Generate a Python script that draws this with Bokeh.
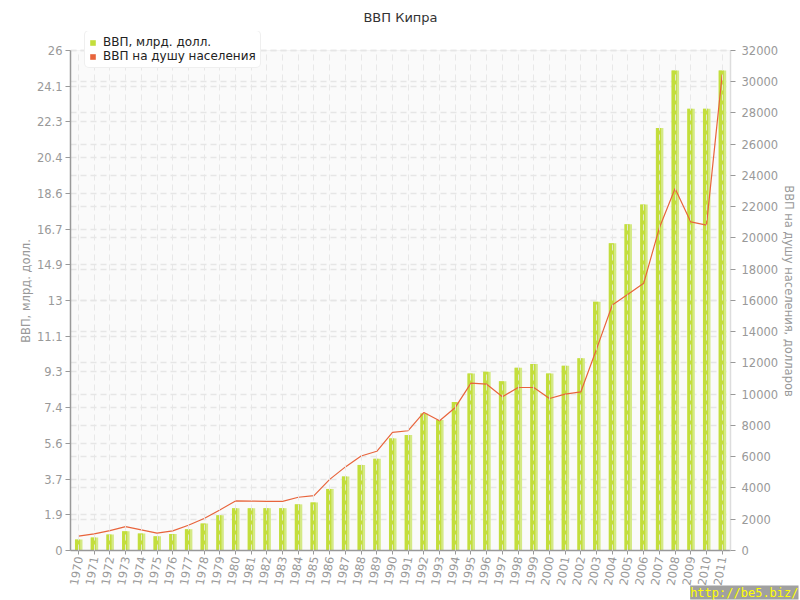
from bokeh.plotting import figure
from bokeh.models import (Range1d, LinearAxis, FixedTicker, Grid, Legend, LegendItem,
                          CustomJSTickFormatter, ColumnDataSource, BoxAnnotation, Title, Axis)
from bokeh.transform import dodge
from bokeh.embed import file_html
from bokeh.resources import INLINE
import math

years = list(range(1970, 2012))
year_labels = [str(y) for y in years]
gdp_bn = [0.57, 0.67, 0.83, 1.0, 0.88, 0.74, 0.86, 1.1, 1.4, 1.83,
          2.2, 2.2, 2.2, 2.2, 2.4, 2.5, 3.2, 3.85, 4.45, 4.77,
          5.83, 6.0, 7.12, 6.78, 7.72, 9.2, 9.3, 8.8, 9.5, 9.7,
          9.2, 9.6, 10.0, 12.94, 15.98, 16.97, 17.99, 21.97, 24.96, 22.97,
          22.97, 24.96]
gdp_per_capita = [915, 1064, 1277, 1533, 1320, 1107, 1256, 1618, 2044, 2597,
                  3172, 3165, 3150, 3140, 3406, 3513, 4550, 5350, 6050, 6350,
                  7556, 7665, 8835, 8303, 9155, 10710, 10645, 9836, 10432, 10432,
                  9730, 10006, 10155, 12900, 15712, 16400, 17100, 20650, 23170, 21030,
                  20820, 30450]
left_max = 26
right_max = 32000
left_ticks = [left_max * i / 14 for i in range(15)]
left_labels = ["0", "1.9", "3.7", "5.6", "7.4", "9.3", "11.1", "13", "14.9",
               "16.7", "18.6", "20.4", "22.3", "24.1", "26"]
right_ticks = list(range(0, right_max + 1, 2000))

FONT = "DejaVu Sans"
GRAY = "#999999"

# frame spans y 30..550 px; the value axes span 49..550 px
EXT = 520 / 501

p = figure(width=800, height=600, output_backend="svg", toolbar_location=None,
           x_range=Range1d(1969.49, 2011.53), y_range=Range1d(0, left_max * EXT),
           min_border_left=70, min_border_right=70, min_border_top=30, min_border_bottom=50,
           background_fill_color="white", border_fill_color="white",
           outline_line_color=None)
p.extra_y_ranges = {"pc": Range1d(0, right_max * EXT)}

p.title.text = "ВВП Кипра"
p.title.align = "center"
p.title.text_font = FONT
p.title.text_font_size = "13px"
p.title.text_font_style = "normal"
p.title.text_color = "#333333"
p.title.standoff = 14

# plot-area background with top border
bg = BoxAnnotation(bottom=0, top=left_max, fill_color="#fafafa", fill_alpha=1.0,
                   line_color="#dddddd", line_width=1, level="image")
p.add_layout(bg)

src = ColumnDataSource(dict(year=years, gdp=gdp_bn, pc=gdp_per_capita,
                            zero=[0] * len(years)))

light = p.vbar(x=dodge("year", 0.02), top="gdp", width=0.47, source=src,
               fill_color="#d4e985", line_color=None)
dark = p.vbar(x=dodge("year", -0.06), top="gdp", width=0.33, source=src,
              fill_color="#c3de3c", line_color=None)
line = p.line("year", "pc", y_range_name="pc", source=src, line_color="#e8643c",
              line_width=1.2)
# zero-height proxy used only for the legend swatch of the per-capita series
proxy = p.vbar(x="year", top="zero", bottom="zero", width=0.3, source=src,
               fill_color="#e8643c", line_color=None)

# axes
xa = p.xaxis[0]
xa.ticker = FixedTicker(ticks=years)
xa.formatter = CustomJSTickFormatter(args=dict(labels=year_labels),
                                     code="return labels[Math.round(tick) - 1970];")
xa.major_label_orientation = math.radians(80)

ya = p.yaxis[0]
ya.ticker = FixedTicker(ticks=left_ticks)
ya.bounds = (0, left_max)
ya.formatter = CustomJSTickFormatter(args=dict(labels=left_labels),
                                     code="return labels[Math.round(tick * 14 / 26)];")
ya.axis_label = "ВВП, млрд. долл."

ra = LinearAxis(y_range_name="pc", ticker=FixedTicker(ticks=right_ticks),
                bounds=(0, right_max),
                axis_label="ВВП на душу населения, долларов")
p.add_layout(ra, "right")

for ax in (xa, ya, ra):
    ax.axis_line_color = GRAY
    ax.axis_line_width = 1.5
    ax.major_tick_line_color = GRAY
    ax.major_tick_out = 5
    ax.major_tick_in = 0
    ax.minor_tick_line_color = None
    ax.major_label_text_font = FONT
    ax.major_label_text_font_size = "11.5px"
    ax.major_label_text_color = GRAY
    ax.axis_label_text_font = FONT
    ax.axis_label_text_font_size = "11.5px"
    ax.axis_label_text_font_style = "normal"
    ax.axis_label_text_color = GRAY
ra.axis_line_color = "#dddddd"
xa.major_tick_out = 4
xa.major_label_standoff = 2
ya.major_label_standoff = 3
ya.axis_label_standoff = 1
ra.major_label_standoff = 6
ra.axis_label_standoff = 1
if "axis_label_orientation" in Axis.properties():
    ra.axis_label_orientation = "vertical"

# grids
xg = p.xgrid[0]
xg.ticker = FixedTicker(ticks=years)
xg.grid_line_color = "#e6e6e6"
xg.grid_line_dash = "6 4"
xg.grid_line_alpha = 0.9
xg.level = "overlay"
if "cross_bounds" in Grid.properties():
    xg.cross_bounds = (0, left_max)

p.ygrid[0].ticker = FixedTicker(ticks=left_ticks)
p.ygrid[0].grid_line_color = "#e6e6e6"
p.ygrid[0].grid_line_dash = "6 4"
p.ygrid[0].grid_line_width = 1.5

g2 = Grid(dimension=1, y_range_name="pc", ticker=FixedTicker(ticks=right_ticks),
          grid_line_color="#e6e6e6", grid_line_dash="6 4", grid_line_width=1.5)
p.add_layout(g2)

legend = Legend(items=[LegendItem(label="ВВП, млрд. долл.", renderers=[dark]),
                       LegendItem(label="ВВП на душу населения", renderers=[proxy])],
                location=(14, 482), orientation="vertical",
                label_text_font=FONT, label_text_font_size="12px", label_text_color="#222222",
                glyph_width=7, glyph_height=7, label_height=12, label_standoff=7,
                spacing=0, padding=4, margin=0,
                background_fill_color="white", background_fill_alpha=1.0,
                border_line_color="#e0e0e0", border_line_width=1)
if "border_radius" in Legend.properties():
    legend.border_radius = 5
p.add_layout(legend, "center")

wm = Title(text="http://be5.biz/", align="right", offset=-68, standoff=-8,
           vertical_align="top",
           text_font="DejaVu Sans Mono", text_font_size="12px", text_font_style="normal",
           text_color="#ffff00", background_fill_color="#a0a0a0")
p.add_layout(wm, "below")

open("out.html", "w").write(file_html(p, INLINE))
